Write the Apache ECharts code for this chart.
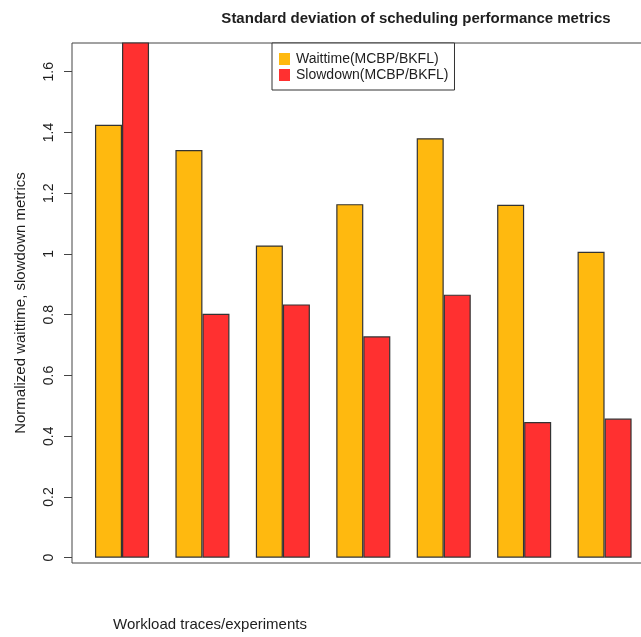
<!DOCTYPE html>
<html>
<head>
<meta charset="utf-8">
<script src="https://cdn.jsdelivr.net/npm/echarts@6/dist/echarts.min.js"></script>
<style>
  html, body { margin: 0; padding: 0; background: #ffffff; }
  #chart { width: 641px; height: 637px; }
</style>
</head>
<body>
<div id="chart"></div>
<script>
// Seven workload traces, two ratios per trace
const categories = ['1', '2', '3', '4', '5', '6', '7'];
const waittimeRatio = [1.425, 1.342, 1.028, 1.164, 1.381, 1.162, 1.007];
const slowdownRatio = [1.72, 0.803, 0.834, 0.729, 0.866, 0.447, 0.458];
const yTicks = [0, 0.2, 0.4, 0.6, 0.8, 1, 1.2, 1.4, 1.6];
const yTickLabels = ['0', '0.2', '0.4', '0.6', '0.8', '1', '1.2', '1.4', '1.6'];

const FONT = '"Liberation Sans", Arial, Helvetica, sans-serif';
const INK = '#1e1e1e';
const Y_MIN = -0.0174;
const Y_MAX = 1.6945;

const chart = echarts.init(document.getElementById('chart'), null, { renderer: 'canvas' });

chart.setOption({
  backgroundColor: '#ffffff',
  animation: false,
  title: {
    text: 'Standard deviation of scheduling performance metrics',
    left: 411,
    top: 6,
    textAlign: 'center',
    textStyle: { fontFamily: FONT, fontSize: 15, fontWeight: 'bold', color: INK }
  },
  legend: {
    orient: 'vertical',
    left: 272,
    top: 43,
    padding: [9, 6, 8, 7],
    itemGap: 2,
    itemWidth: 11,
    itemHeight: 12,
    icon: 'rect',
    backgroundColor: '#ffffff',
    borderColor: '#333333',
    borderWidth: 1,
    borderRadius: 0,
    itemStyle: { borderWidth: 0 },
    textStyle: { fontFamily: FONT, fontSize: 14, color: INK, padding: [0, 0, 0, 1] },
    data: ['Waittime(MCBP/BKFL)', 'Slowdown(MCBP/BKFL)']
  },
  grid: [
    // bar area: one category per trace, bars meet in the middle of each band
    { left: 81.8, right: -3.8, top: 43, height: 520, outerBoundsMode: 'none', containLabel: false },
    // plot frame with the value axis
    { left: 72, right: -30, top: 43, height: 520, outerBoundsMode: 'none', show: true, borderColor: '#444444', borderWidth: 1, backgroundColor: 'transparent', containLabel: false }
  ],
  xAxis: [
    { type: 'category', gridIndex: 0, data: categories, axisLine: { show: false }, axisTick: { show: false }, axisLabel: { show: false } },
    { type: 'value', gridIndex: 1, min: 0, max: 1, show: false }
  ],
  yAxis: [
    { type: 'value', gridIndex: 0, min: Y_MIN, max: Y_MAX, show: false, splitLine: { show: false } },
    {
      type: 'value', gridIndex: 1, min: Y_MIN, max: Y_MAX,
      name: 'Normalized waittime, slowdown metrics',
      nameLocation: 'middle',
      nameGap: 44,
      nameRotate: 90,
      nameTextStyle: { fontFamily: FONT, fontSize: 15, color: INK },
      axisLine: { show: false },
      axisTick: {
        show: true, length: 8, inside: false,
        lineStyle: { color: '#444444', width: 1 },
        customValues: yTicks
      },
      axisLabel: {
        show: true, rotate: 90, margin: 16,
        fontFamily: FONT, fontSize: 14, color: INK,
        customValues: yTicks,
        formatter: function (v) {
          const i = yTicks.findIndex(t => Math.abs(t - v) < 1e-6);
          return i >= 0 ? yTickLabels[i] : '';
        }
      },
      splitLine: { show: false }
    }
  ],
  series: [
    {
      name: 'Waittime(MCBP/BKFL)',
      type: 'bar',
      xAxisIndex: 0, yAxisIndex: 0,
      data: waittimeRatio,
      barWidth: '33.6%',
      barGap: '0%',
      clip: true,
      itemStyle: { color: '#FFB90F', borderColor: '#333333', borderWidth: 1.2 }
    },
    {
      name: 'Slowdown(MCBP/BKFL)',
      type: 'bar',
      xAxisIndex: 0, yAxisIndex: 0,
      data: slowdownRatio,
      barWidth: '33.6%',
      barGap: '0%',
      clip: true,
      itemStyle: { color: '#FF3030', borderColor: '#333333', borderWidth: 1.2 }
    }
  ],
  graphic: [
    {
      type: 'text',
      left: 113,
      top: 617,
      style: { text: 'Workload traces/experiments', fontFamily: FONT, fontSize: 15, fill: INK }
    }
  ]
});
</script>
</body>
</html>
